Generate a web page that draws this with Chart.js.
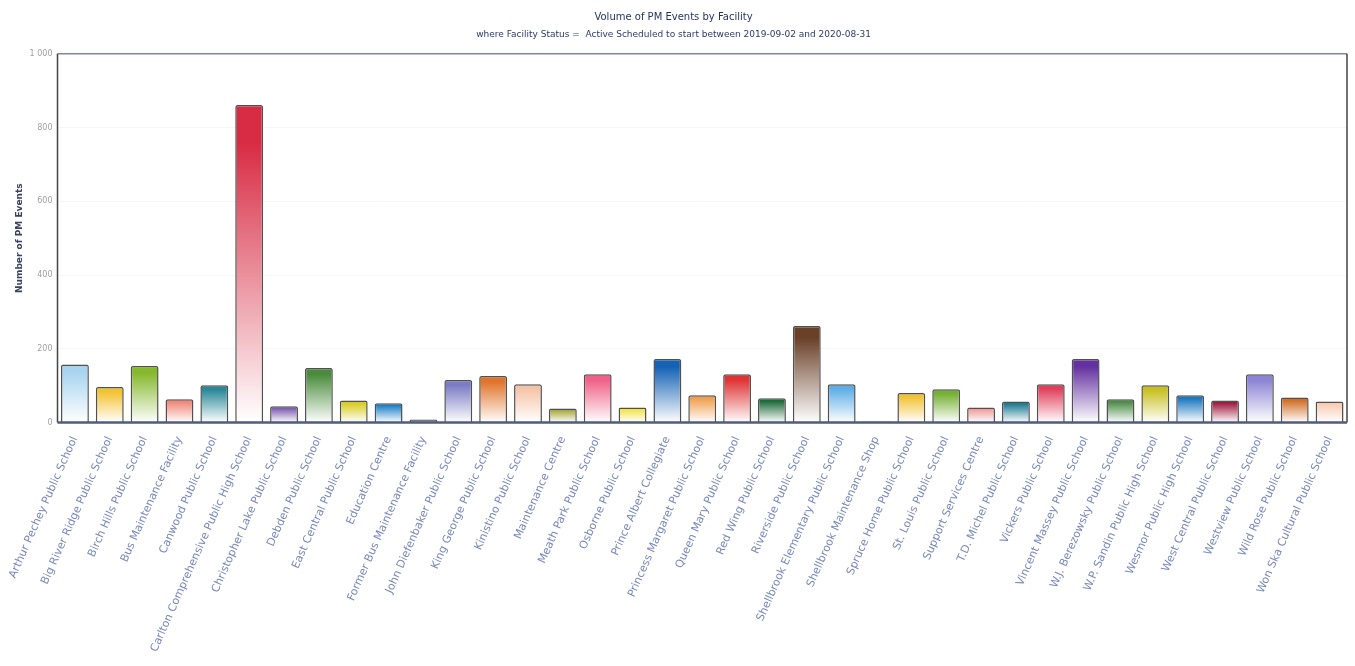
<!DOCTYPE html>
<html>
<head>
<meta charset="utf-8">
<title>Volume of PM Events by Facility</title>
<script src="https://cdn.jsdelivr.net/npm/chart.js@4.4.1/dist/chart.umd.min.js"></script>
<style>
    html, body { margin: 0; padding: 0; background: #ffffff; }
    #wrapper { width: 1355px; height: 666px; }
</style>
</head>
<body>
<div id="wrapper"><canvas id="chart"></canvas></div>
<script>
let facilities = [
    'Arthur Pechey Public School', 'Big River Ridge Public School', 'Birch Hills Public School',
    'Bus Maintenance Facility', 'Canwood Public School', 'Carlton Comprehensive Public High School',
    'Christopher Lake Public School', 'Debden Public School', 'East Central Public School',
    'Education Centre', 'Former Bus Maintenance Facility', 'John Diefenbaker Public School',
    'King George Public School', 'Kinistino Public School', 'Maintenance Centre',
    'Meath Park Public School', 'Osborne Public School', 'Prince Albert Collegiate',
    'Princess Margaret Public School', 'Queen Mary Public School', 'Red Wing Public School',
    'Riverside Public School', 'Shellbrook Elementary Public School', 'Shellbrook Maintenance Shop',
    'Spruce Home Public School', 'St. Louis Public School', 'Support Services Centre',
    'T.D. Michel Public School', 'Vickers Public School', 'Vincent Massey Public School',
    'W.J. Berezowsky Public School', 'W.P. Sandin Public High School', 'Wesmor Public High School',
    'West Central Public School', 'Westview Public School', 'Wild Rose Public School',
    'Won Ska Cultural Public School'
];

let pmEvents = [
    157, 96, 153, 63, 101, 861, 44, 148, 60, 52, 8, 115, 126, 104, 38, 131, 41, 172, 74,
    131, 66, 262, 104, 3, 80, 90, 41, 57, 104, 172, 63, 101, 74, 60, 131, 68, 57
];

let yTicks = [0, 200, 400, 600, 800, 1000];

let barColors = [
    '#a8d4f0', '#f2c230', '#86b82c', '#f08878', '#2a8898', '#d82c44', '#7c5cae', '#4a8c3c',
    '#d8cc20', '#1f82c8', '#383838', '#7c7cc4', '#e0742a', '#f5c4a8', '#a8a83c', '#f06088',
    '#f0e448', '#1462b4', '#f0a050', '#e03434', '#1e6a3a', '#6a4028', '#5eaee6', '#9090b0',
    '#f2c234', '#74b032', '#f09c9c', '#1f7c94', '#e0405c', '#6432a0', '#4c8c48', '#c8c020',
    '#1c78c0', '#a01c40', '#8c84d4', '#d0702a', '#f8ccb4'
];

// each bar fades from its colour at the top to white at the axis
function barGradient(context) {
    let chart = context.chart;
    let area = chart.chartArea;
    let color = barColors[context.dataIndex];
    if (!area || context.raw === undefined) {
        return color;
    }
    let top = chart.scales.y.getPixelForValue(context.raw);
    let g = chart.ctx.createLinearGradient(0, top, 0, area.bottom);
    g.addColorStop(0, color);
    g.addColorStop(0.12, color);
    g.addColorStop(1, '#ffffff');
    return g;
}

// box round the plot area
let frame = {
    id: 'frame',
    afterDatasetsDraw(chart) {
        let ctx = chart.ctx;
        let a = chart.chartArea;
        ctx.save();
        ctx.lineWidth = 1.5;
        ctx.strokeStyle = '#7a88a8';
        ctx.beginPath();
        ctx.moveTo(a.left, a.top);
        ctx.lineTo(a.right, a.top);
        ctx.stroke();
        ctx.strokeStyle = '#444';
        ctx.beginPath();
        ctx.moveTo(a.left, a.bottom);
        ctx.lineTo(a.left, a.top);
        ctx.moveTo(a.right, a.top);
        ctx.lineTo(a.right, a.bottom);
        ctx.stroke();
        ctx.lineWidth = 2.5;
        ctx.strokeStyle = '#4d5d80';
        ctx.beginPath();
        ctx.moveTo(a.left, a.bottom);
        ctx.lineTo(a.right, a.bottom);
        ctx.stroke();
        ctx.restore();
    }
};

let ctx = document.getElementById('chart');
let chart = new Chart(ctx, {
    type: 'bar',
    data: {
        labels: facilities,
        datasets: [{
            data: pmEvents,
            backgroundColor: barGradient,
            borderColor: '#505050',
            borderWidth: 1.5,
            borderRadius: 2,
            borderSkipped: 'bottom',
            categoryPercentage: 1.0,
            barPercentage: 0.8,
            minBarLength: 1
        }]
    },
    options: {
        responsive: true,
        maintainAspectRatio: false,
        animation: false,
        layout: {
            padding: { left: 0, right: 8, top: 0, bottom: 0 }
        },
        plugins: {
            legend: { display: false },
            tooltip: { enabled: false },
            title: {
                display: true,
                text: 'Volume of PM Events by Facility',
                color: '#1e2e5e',
                font: { family: 'DejaVu Sans', size: 10, weight: 'normal' },
                padding: { top: 11, bottom: 6 }
            },
            subtitle: {
                display: true,
                text: 'where Facility Status =  Active Scheduled to start between 2019-09-02 and 2020-08-31',
                color: '#2a3a6a',
                font: { family: 'DejaVu Sans', size: 9 },
                padding: { top: 0, bottom: 14 }
            }
        },
        scales: {
            y: {
                min: 0,
                max: 1000,
                afterBuildTicks: (scale) => {
                    scale.ticks = yTicks.map(v => ({ value: v }));
                },
                afterFit: (scale) => {
                    scale.width = 57.5;
                },
                ticks: {
                    color: '#a0a0a0',
                    font: { family: 'DejaVu Sans', size: 8 },
                    padding: 5,
                    callback: (v) => String(v).replace(/\B(?=(\d{3})+(?!\d))/g, ' ')
                },
                grid: {
                    color: 'rgba(0,0,0,0.035)',
                    drawTicks: false
                },
                border: { display: false },
                title: {
                    display: true,
                    text: 'Number of PM Events',
                    color: '#3a4060',
                    font: { family: 'DejaVu Sans', size: 9, weight: 'bold' },
                    padding: { top: 14, bottom: 0 }
                }
            },
            x: {
                afterFit: (scale) => {
                    scale.height = 243.5;
                },
                ticks: {
                    autoSkip: false,
                    minRotation: 66,
                    maxRotation: 66,
                    color: '#7888bb',
                    font: { family: 'DejaVu Sans', size: 11 },
                    padding: 4
                },
                grid: { display: false },
                border: { display: false }
            }
        }
    },
    plugins: [frame]
});
</script>
</body>
</html>
